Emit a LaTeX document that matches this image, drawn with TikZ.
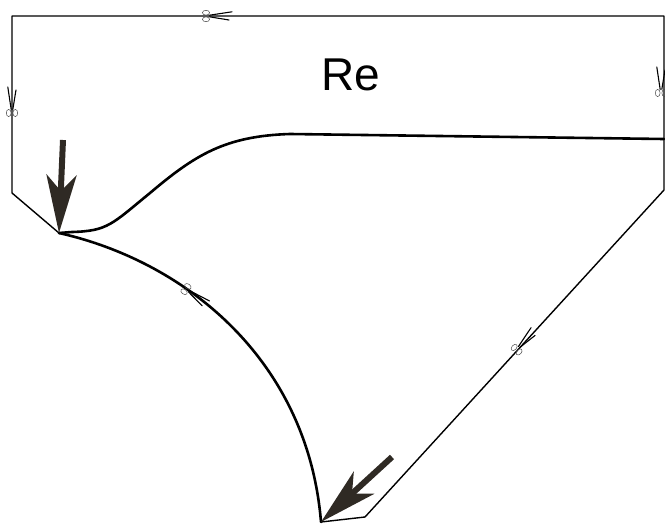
\documentclass[tikz,border=0pt]{standalone}
\usepackage{fontspec}
\setmainfont{Liberation Sans}
\usetikzlibrary{arrows.meta}
\definecolor{arrowc}{HTML}{2F2A24}
\tikzset{
  outline/.style={line width=1.4pt, line join=round},
  cutline/.style={line width=2.6pt, line cap=round, line join=round},
  bigarrow/.style={line width=6pt, color=arrowc, -{Stealth[length=58pt, width=30pt, inset=16pt]}},
  sciss/.pic={
    \draw[line width=0.5pt, black!70] (5,3.3) ellipse (3.6 and 2.4);
    \draw[line width=0.5pt, black!70] (5,-3.3) ellipse (3.6 and 2.4);
    \draw[line width=1.1pt, line cap=round] (1.5,0.8) -- (-21,4.2);
    \draw[line width=1.1pt, line cap=round] (1.5,-0.8) -- (-18,-4);
  }
}
\begin{document}
\begin{tikzpicture}[x=1pt, y=-1pt]
\useasboundingbox (0,0) rectangle (665,525);
\coordinate (tl) at (12,16);
\coordinate (tr) at (664,16);
\coordinate (rb) at (664,190);
\coordinate (lb) at (12,193);
\coordinate (p) at (59,233);
\coordinate (q) at (321,522);
\coordinate (br) at (365,517);
\coordinate (ir) at (664,139);
% outer outline
\draw[outline] (rb) -- (tr) -- (tl) -- (lb) -- (p);
\draw[outline] (q) -- (br) -- (rb);
% inner cut curve (top)
\draw[cutline] (p) -- (72,232) .. controls (108,231) and (112,224) .. (150,193)
  .. controls (195,155) and (225,136) .. (290,134) -- (ir);
% lower-left arc
\draw[cutline] (p) .. controls (188,262) and (308,362) .. (q);
% label
\node (re) at (351,75) {\fontsize{46}{50}\selectfont Re};
% scissors marks
\pic[rotate=180] at (211,16) {sciss};
\pic[rotate=-90] at (12,108) {sciss};
\pic[rotate=-90] at (661,88) {sciss};
\pic[rotate=144] at (190,292) {sciss};
\pic[rotate=227.6] at (520,346) {sciss};
% big arrows
\coordinate (a1s) at (63,140);
\coordinate (a2s) at (392,457);
\draw[bigarrow] (a1s) -- (p);
\draw[bigarrow] (a2s) -- (q);
\end{tikzpicture}
\end{document}
